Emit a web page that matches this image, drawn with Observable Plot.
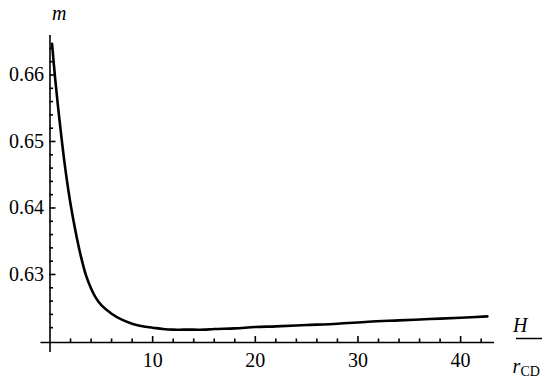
<!DOCTYPE html>
<html>
<head>
<meta charset="utf-8">
<script src="https://cdn.jsdelivr.net/npm/d3@7"></script>
<script src="https://cdn.jsdelivr.net/npm/@observablehq/plot@0.6"></script>
<style>
  html, body { margin: 0; padding: 0; background: #fff; }
  #chart svg { display: block; }
</style>
</head>
<body>
<div id="chart"></div>
<script>
// Data: m versus H / r_CD
const ratioH = [0.2, 0.5, 1, 1.5, 2, 2.5, 3, 3.5, 4, 4.5, 5, 6, 7, 8, 9, 10, 11, 12, 13, 14, 15, 16, 18, 20, 22, 25, 28, 31, 34, 37, 40, 42.6];
const mValue = [0.6647, 0.6595, 0.6522, 0.6458, 0.6406, 0.6364, 0.6328, 0.6299, 0.6279, 0.6264, 0.6254, 0.6241, 0.6232, 0.6226, 0.6222, 0.6220, 0.6218, 0.6217, 0.6217, 0.6217, 0.6217, 0.6218, 0.6219, 0.6221, 0.6222, 0.6224, 0.6226, 0.6229, 0.6231, 0.6233, 0.6235, 0.6237];

const xMajorTicks = [10, 20, 30, 40];
const xMinorTicks = [2, 4, 6, 8, 12, 14, 16, 18, 22, 24, 26, 28, 32, 34, 36, 38, 42];
const yMajorTicks = [0.63, 0.64, 0.65, 0.66];
const yMinorTicks = [0.622, 0.624, 0.626, 0.628, 0.632, 0.634, 0.636, 0.638, 0.642, 0.644, 0.646, 0.648, 0.652, 0.654, 0.656, 0.658, 0.662, 0.664];
const xDomain = [0, 43.3];
const yDomain = [0.61977, 0.66594];

const data = ratioH.map((x, i) => ({x, m: mValue[i]}));

const W = 550, H = 379;
const mL = 49.5, mR = 56, mT = 35, mB = 37;
const plotW = W - mL - mR, plotH = H - mT - mB;
const serif = "Times New Roman";

const chart = Plot.plot({
  width: W,
  height: H,
  marginLeft: mL,
  marginRight: mR,
  marginTop: mT,
  marginBottom: mB,
  style: {background: "#fff", color: "#000", fontFamily: "Times New Roman"},
  x: {domain: xDomain, axis: null},
  y: {domain: yDomain, axis: null},
  marks: [
    Plot.ruleY([yDomain[0]], {stroke: "#000", strokeWidth: 1.6, insetLeft: -9}),
    Plot.ruleX([xDomain[0]], {stroke: "#000", strokeWidth: 1.6, insetBottom: -10}),
    Plot.ruleX(xMajorTicks, {stroke: "#000", strokeWidth: 1.6, insetTop: plotH - 6}),
    Plot.ruleX(xMinorTicks, {stroke: "#000", strokeWidth: 1.6, insetTop: plotH - 3.5}),
    Plot.ruleY(yMajorTicks, {stroke: "#000", strokeWidth: 1.6, insetRight: plotW - 6}),
    Plot.ruleY(yMinorTicks, {stroke: "#000", strokeWidth: 1.6, insetRight: plotW - 3.5}),
    Plot.text(xMajorTicks, {x: d => d, y: yDomain[0], text: d => String(d), dy: 18, fontSize: 20, fontFamily: serif, fill: "#000", lineAnchor: "middle"}),
    Plot.text(yMajorTicks, {x: xDomain[0], y: d => d, text: d => d.toFixed(2), dx: -6, textAnchor: "end", fontSize: 20, fontFamily: serif, fill: "#000", lineAnchor: "middle"}),
    Plot.line(data, {x: "x", y: "m", stroke: "#000", strokeWidth: 2.6, curve: "catmull-rom"}),
    Plot.text(["m"], {frameAnchor: "top-left", dx: 2, dy: -22, fontSize: 20, fontFamily: serif, fontStyle: "italic", fill: "#000", lineAnchor: "middle"}),
    Plot.text(["H"], {frameAnchor: "bottom-right", dx: 33, dy: -17, fontSize: 20, fontFamily: serif, fontStyle: "italic", fill: "#000", lineAnchor: "middle"}),
    Plot.ruleY([yDomain[0]], {stroke: "#000", strokeWidth: 1.5, insetLeft: plotW + 22, insetRight: -48, dy: -4}),
    Plot.text(["r"], {frameAnchor: "bottom-right", dx: 18, dy: 30, fontSize: 20, fontFamily: serif, fontStyle: "italic", fill: "#000", textAnchor: "start", lineAnchor: "bottom"}),
    Plot.text(["CD"], {frameAnchor: "bottom-right", dx: 26, dy: 33, fontSize: 14, fontFamily: serif, fill: "#000", textAnchor: "start", lineAnchor: "bottom"})
  ]
});
document.getElementById("chart").appendChild(chart);
</script>
</body>
</html>
